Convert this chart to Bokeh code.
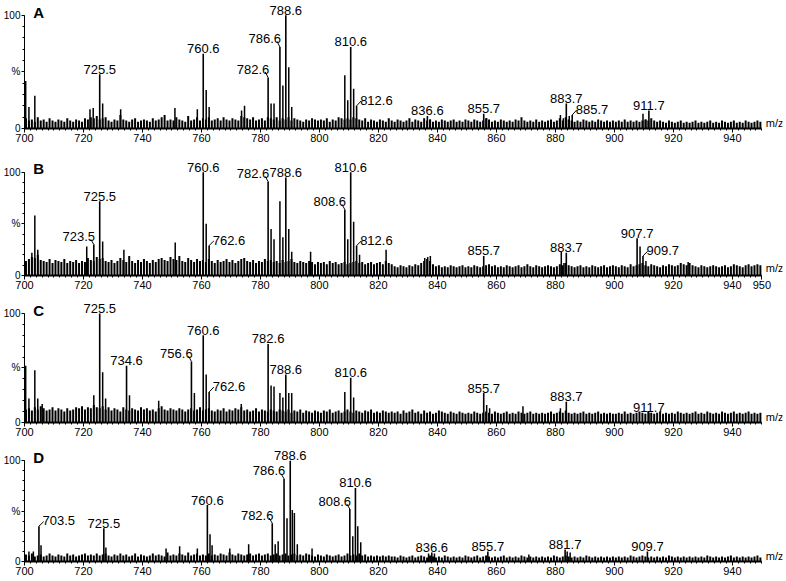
import numpy as np
from bokeh.plotting import figure
from bokeh.models import Range1d, FixedTicker, Label
from bokeh.layouts import column
from bokeh.embed import file_html
from bokeh.resources import INLINE
from bokeh.core.properties import value

FONT = "Liberation Sans"

# ---------------- data ----------------
x_ticks = [700, 720, 740, 760, 780, 800, 820, 840, 860, 880, 900, 920, 940]
x_ticks_b = x_ticks + [950]
y_tick_labels = {0: "0", 50: "%", 100: "100"}

# baseline noise, one value per m/z unit from 700 to 949 (% intensity)
A_noise = [9,7,8,6,10,7,8,6,9,7,6,8,7,6,9,7,6,8,7,6,9,8,10,9,11,
           8,9,10,7,6,8,7,12,8,7,6,8,9,6,7,8,7,6,9,7,8,10,12,7,8,
           7,10,8,7,6,11,7,8,10,7,9,8,10,7,8,9,7,10,8,7,9,8,7,11,10,
           9,8,10,7,8,9,7,10,9,8,10,7,9,8,10,7,9,8,7,6,8,7,9,8,7,
           8,7,9,6,8,7,10,9,8,9,8,10,9,8,7,9,6,8,7,6,8,7,6,9,7,
           6,8,7,6,7,9,6,8,7,6,9,7,8,6,7,6,8,7,6,7,8,6,7,6,8,
           7,6,8,7,6,7,9,8,6,7,6,8,7,6,7,6,8,7,10,7,6,7,6,8,6,
           7,6,7,8,6,7,9,7,10,8,7,6,7,6,8,7,6,7,6,8,7,6,7,6,7,
           6,7,6,8,6,7,6,7,6,7,8,7,9,7,6,7,6,5,7,6,5,6,7,5,6,
           5,6,7,5,6,5,6,7,5,6,5,7,6,5,6,7,5,6,5,7,6,5,6,7,6]
B_noise = [14,16,18,17,20,15,14,13,16,12,15,14,13,16,12,14,13,15,12,14,13,17,15,14,18,
           16,17,14,13,15,12,14,17,15,13,19,14,12,15,13,16,14,12,15,13,16,17,15,14,18,
           16,15,19,14,13,17,15,13,16,14,15,13,16,14,12,15,13,14,16,13,15,12,14,16,17,
           14,13,15,12,14,13,16,14,15,13,14,12,15,13,14,16,13,12,14,13,12,14,13,11,13,
           12,13,11,14,12,13,11,12,13,11,12,13,14,12,13,11,12,13,11,12,13,11,14,12,11,
           9,8,10,9,8,10,9,11,10,12,14,16,14,11,9,10,8,9,8,10,9,8,9,10,8,
           9,8,10,9,8,9,10,11,9,10,8,9,8,10,9,8,9,10,8,9,11,9,8,10,9,
           8,9,10,9,8,9,11,10,12,10,9,8,9,10,8,9,8,10,9,8,9,10,8,9,10,
           9,8,10,9,8,11,9,10,11,12,10,9,11,10,9,8,10,9,11,10,9,10,12,11,10,
           12,10,9,8,10,9,8,9,10,9,8,9,10,8,9,11,10,9,8,10,11,9,10,11,10]
C_noise = [12,13,11,14,12,15,13,11,12,14,11,13,12,10,13,11,12,14,13,15,12,14,13,16,14,
           13,15,12,14,11,13,12,10,14,12,11,13,12,11,14,12,13,11,12,10,13,15,12,11,13,
           12,11,13,12,10,12,13,11,12,14,11,12,13,11,10,12,11,13,10,12,11,13,12,14,11,
           12,10,11,13,10,12,11,10,12,11,10,12,11,10,12,9,11,10,12,9,11,10,9,11,10,
           9,11,10,12,9,10,11,9,10,12,10,9,11,10,9,11,10,12,9,10,9,11,10,9,10,
           9,10,8,11,9,10,12,9,10,8,11,9,10,8,9,11,10,9,8,10,9,8,10,9,8,
           9,8,10,9,8,9,10,9,8,10,9,8,9,10,8,9,8,10,9,8,9,10,8,9,8,
           9,8,9,10,8,9,10,9,11,9,8,9,8,9,10,8,9,8,9,10,8,9,8,9,8,
           8,9,8,10,8,9,8,9,10,9,8,10,9,8,9,10,8,9,8,9,8,10,9,8,9,
           8,9,10,8,9,8,10,9,8,9,8,10,9,8,9,10,8,9,8,9,10,8,9,8,9]
D_noise = [7,6,8,5,6,7,5,6,8,6,5,7,6,5,8,6,7,5,6,7,8,6,7,6,8,
           6,7,8,6,5,7,6,8,6,7,5,6,8,5,7,6,5,6,8,6,7,6,5,9,6,
           7,6,8,7,6,9,6,7,8,6,7,6,8,6,7,6,8,7,6,9,7,6,8,7,6,
           7,8,6,7,8,6,7,8,6,7,8,6,7,8,6,7,8,6,7,6,8,7,6,5,7,
           6,5,7,6,5,6,7,5,6,8,6,7,6,8,6,7,5,6,5,6,5,6,5,6,5,
           5,4,6,5,4,5,6,4,5,6,5,4,6,5,4,5,4,6,5,4,5,4,5,4,6,
           5,4,5,6,4,5,6,5,4,5,4,5,6,4,5,4,5,4,6,5,4,5,4,5,4,
           5,4,5,4,6,5,4,5,6,5,4,5,4,5,4,6,5,4,5,4,5,4,5,4,5,
           4,5,4,5,4,6,5,4,5,6,5,4,5,4,5,4,5,4,6,5,4,5,4,5,4,
           5,4,5,4,5,4,6,5,4,5,4,5,4,5,6,4,5,4,5,4,5,4,5,6,4]

# labelled peaks
A_lab_mz = [725.5, 760.6, 782.6, 786.6, 788.6, 810.6, 812.6, 836.6, 855.7, 883.7, 885.7, 911.7]
A_lab_int = [48, 66, 45, 72, 100, 72, 20, 11, 13, 22, 12, 16]
A_lab_txt = ["725.5", "760.6", "782.6", "786.6", "788.6", "810.6", "812.6", "836.6", "855.7", "883.7", "885.7", "911.7"]
A_pk_mz = [700.4, 701.5, 703.5, 722.2, 723.3, 726.5, 732.6, 751.0, 758.6, 761.6, 762.6, 773.6, 774.6,
           783.6, 784.6, 787.6, 789.6, 790.6, 808.6, 809.6, 811.6, 837.6, 856.7, 881.7, 882.7, 884.7, 909.7, 910.7]
A_pk_int = [42, 19, 29, 17, 18, 22, 17, 18, 17, 34, 19, 16, 20, 22, 22, 38, 54, 19, 47, 25, 35, 8, 9, 12, 9, 11, 13, 8]

B_lab_mz = [723.5, 725.5, 760.6, 762.6, 782.6, 788.6, 808.6, 810.6, 812.6, 855.7, 883.7, 907.7, 909.7]
B_lab_int = [30, 72, 100, 29, 91, 95, 64, 100, 29, 19, 22, 36, 19]
B_lab_txt = ["723.5", "725.5", "760.6", "762.6", "782.6", "788.6", "808.6", "810.6", "812.6", "855.7", "883.7", "907.7", "909.7"]
B_pk_mz = [702.5, 703.5, 704.5, 721.1, 726.5, 733.7, 751.1, 761.6, 783.6, 784.6, 786.6, 787.6, 789.6, 790.6,
           797.0, 809.6, 811.6, 813.6, 822.6, 835.7, 836.7, 837.6, 882.0, 882.9, 908.7, 910.7, 925.0]
B_pk_int = [22, 58, 25, 28, 33, 25, 32, 50, 45, 35, 72, 37, 45, 23, 23, 35, 52, 20, 25, 17, 18, 19, 23, 12, 28, 14, 13]

C_lab_mz = [725.5, 734.6, 756.6, 760.6, 762.6, 782.6, 788.6, 810.6, 855.7, 883.7, 911.7]
C_lab_int = [100, 52, 56, 80, 28, 72, 44, 41, 27, 19, 9]
C_lab_txt = ["725.5", "734.6", "756.6", "760.6", "762.6", "782.6", "788.6", "810.6", "855.7", "883.7", "911.7"]
C_pk_mz = [700.4, 701.5, 703.5, 704.5, 706.0, 723.5, 726.5, 727.5, 735.6, 745.5, 757.6, 761.6, 773.5,
           783.6, 784.6, 786.6, 787.6, 789.6, 790.6, 808.6, 811.6, 856.7, 857.7, 869.0, 881.7]
C_pk_int = [52, 22, 48, 22, 17, 25, 46, 22, 25, 20, 27, 44, 17, 34, 33, 27, 23, 27, 27, 28, 23, 16, 13, 15, 13]

D_lab_mz = [704.9, 726.9, 762.0, 784.0, 788.0, 790.1, 810.3, 812.2, 838.1, 857.1, 883.3, 911.2]
D_lab_int = [35, 33, 56, 38, 82, 100, 52, 73, 9, 10, 12, 10]
D_lab_txt = ["703.5", "725.5", "760.6", "782.6", "786.6", "788.6", "808.6", "810.6", "836.6", "855.7", "881.7", "909.7"]
D_pk_mz = [701.5, 703.0, 705.6, 727.6, 748.0, 752.6, 758.6, 762.9, 763.6, 769.6, 776.0, 785.0, 786.0,
           789.0, 790.8, 791.5, 792.5, 797.5, 811.3, 813.0, 814.0, 837.0, 839.0, 871.0, 884.0, 885.0]
D_pk_int = [10, 10, 16, 14, 13, 15, 13, 27, 16, 13, 17, 17, 20, 43, 51, 48, 17, 13, 25, 35, 19, 8, 8, 7, 10, 9]

# label placement style: c = centred above, l = left of peak with leader, r = right with leader
A_mode = ["c", "c", "l", "l", "c", "c", "r", "c", "c", "c", "r", "c"]
B_mode = ["l", "c", "c", "r", "l", "c", "l", "c", "r", "c", "c", "c", "r"]
C_mode = ["c", "c", "l", "c", "r", "c", "c", "c", "c", "c", "c"]
D_mode = ["r", "c", "c", "l", "l", "c", "l", "c", "c", "c", "c", "c"]


def panel(letter, noise, pk_mz, pk_int, lab_mz, lab_int, lab_txt, modes, ticks, mz_dy, height, y_end):
    p = figure(width=786, height=height, output_backend="svg", toolbar_location=None,
               x_range=Range1d(700, 957), y_range=Range1d(0, y_end),
               min_border_top=0, min_border_bottom=20, min_border_left=0, min_border_right=4)
    p.outline_line_color = None
    p.xgrid.visible = False
    p.ygrid.visible = False
    p.background_fill_color = "white"

    # x axis
    xa = p.xaxis[0]
    xa.bounds = (700, 950)
    xa.ticker = FixedTicker(ticks=ticks, minor_ticks=list(range(700, 951, 2)))
    xa.axis_line_width = 2
    xa.major_tick_out = 4
    xa.major_tick_in = 0
    xa.minor_tick_out = 2
    xa.minor_tick_in = 0
    xa.major_label_standoff = 1
    xa.major_label_text_font = FONT
    xa.major_label_text_font_size = "11px"
    xa.major_label_text_color = "black"

    # y axis
    ya = p.yaxis[0]
    ya.bounds = (0, 100)
    ya.ticker = FixedTicker(ticks=[0, 50, 100], minor_ticks=list(range(0, 101, 10)))
    ya.major_label_overrides = y_tick_labels
    ya.major_tick_out = 3
    ya.major_tick_in = 0
    ya.minor_tick_out = 2
    ya.minor_tick_in = 0
    ya.major_label_standoff = 1
    ya.major_label_text_font = FONT
    ya.major_label_text_font_size = "10px"
    ya.major_label_text_color = "black"

    # noise forest
    nx = np.arange(700, 950) + 0.5
    p.segment(x0=nx, y0=np.zeros(len(noise)), x1=nx, y1=np.array(noise),
              line_color="black", line_width=2.0)
    # minor peaks
    p.segment(x0=pk_mz, y0=[0] * len(pk_mz), x1=pk_mz, y1=pk_int, line_color="black", line_width=1.5)
    # labelled peaks
    p.segment(x0=lab_mz, y0=[0] * len(lab_mz), x1=lab_mz, y1=lab_int, line_color="black", line_width=1.6)

    groups = {"c": ([], [], []), "l": ([], [], []), "r": ([], [], [])}
    lx0, ly0, lx1, ly1 = [], [], [], []
    for mz, it, t, m in zip(lab_mz, lab_int, lab_txt, modes):
        if m == "c":
            groups["c"][0].append(mz)
            groups["c"][1].append(it + 0.5)
            groups["c"][2].append(t)
        elif m == "l":
            groups["l"][0].append(mz + 0.4)
            groups["l"][1].append(it + 3.5)
            groups["l"][2].append(t)
            lx0.append(mz); ly0.append(it); lx1.append(mz - 1.0); ly1.append(it + 5.0)
        else:
            groups["r"][0].append(mz + 1.2)
            groups["r"][1].append(it + 1.0)
            groups["r"][2].append(t)
            lx0.append(mz); ly0.append(it); lx1.append(mz + 1.6); ly1.append(it + 4.5)
    if lx0:
        p.segment(x0=lx0, y0=ly0, x1=lx1, y1=ly1, line_color="black", line_width=1)
    for key, align in (("c", "center"), ("l", "right"), ("r", "left")):
        xs, ys, ts = groups[key]
        if xs:
            p.text(x=xs, y=ys, text=ts, text_font=value(FONT), text_font_size="13px",
                   text_align=align, text_baseline="bottom", text_color="black")

    p.add_layout(Label(x=703, y=95, text=letter, text_font=FONT, text_font_size="15px",
                       text_font_style="bold", text_baseline="bottom", text_color="black"))
    p.add_layout(Label(x=950, y=0, x_offset=4, y_offset=mz_dy, text="m/z", text_font=FONT,
                       text_font_size="11px", text_baseline="bottom", text_color="black"))
    return p


pA = panel("A", A_noise, A_pk_mz, A_pk_int, A_lab_mz, A_lab_int, A_lab_txt, A_mode, x_ticks, 0, 148, 113)
pB = panel("B", B_noise, B_pk_mz, B_pk_int, B_lab_mz, B_lab_int, B_lab_txt, B_mode, x_ticks_b, 2, 147, 123)
pC = panel("C", C_noise, C_pk_mz, C_pk_int, C_lab_mz, C_lab_int, C_lab_txt, C_mode, x_ticks, 0, 147, 116.5)
pD = panel("D", D_noise, D_pk_mz, D_pk_int, D_lab_mz, D_lab_int, D_lab_txt, D_mode, x_ticks, 0, 139, 118)

layout = column(pA, pB, pC, pD, spacing=0)
open("out.html", "w").write(file_html(layout, INLINE))
